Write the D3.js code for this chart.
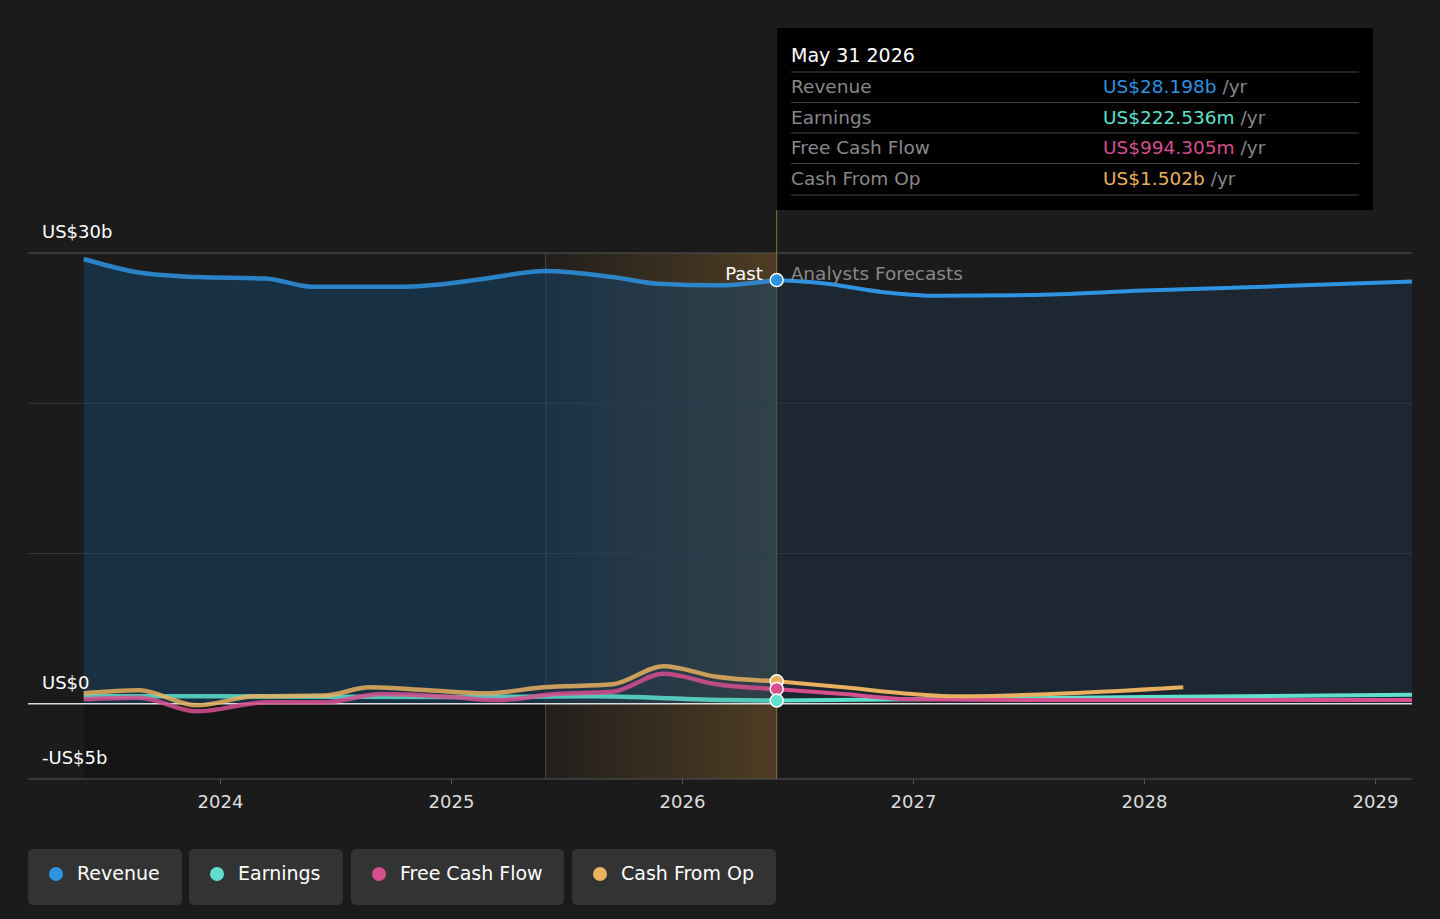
<!DOCTYPE html>
<html><head><meta charset="utf-8">
<script src="https://cdn.jsdelivr.net/npm/d3@7"></script>
<style>
body{margin:0;background:#1b1b1b;font-family:"DejaVu Sans",sans-serif;}
</style></head><body>
<svg id="chart" width="1440" height="919"></svg>
<script>
var revenue = [[2023.41,29.6],[2023.65,28.7],[2023.9,28.4],[2024.2,28.3],[2024.4,27.75],[2024.8,27.75],[2024.95,27.9],[2025.15,28.3],[2025.41,28.8],[2025.7,28.4],[2025.9,27.95],[2026.15,27.85],[2026.41,28.2],[2026.6,28.0],[2026.9,27.35],[2027.1,27.15],[2027.5,27.2],[2028,27.5],[2028.6,27.8],[2029.16,28.1]];
var earnings = [[2023.41,0.5],[2024,0.5],[2025,0.45],[2025.6,0.5],[2026.2,0.25],[2026.41,0.22],[2027,0.3],[2028,0.45],[2029.16,0.6]];
var fcf = [[2023.41,0.3],[2023.65,0.4],[2023.9,-0.5],[2024.2,0.1],[2024.45,0.1],[2024.7,0.65],[2025,0.45],[2025.2,0.25],[2025.45,0.65],[2025.7,0.8],[2025.92,2.0],[2026.15,1.3],[2026.41,0.99],[2026.7,0.65],[2027,0.3],[2027.5,0.25],[2029.16,0.25]];
var cfo = [[2023.41,0.7],[2023.65,0.9],[2023.9,-0.1],[2024.15,0.5],[2024.45,0.55],[2024.65,1.1],[2024.9,0.9],[2025.15,0.7],[2025.4,1.1],[2025.7,1.3],[2025.92,2.5],[2026.15,1.8],[2026.41,1.5],[2026.7,1.1],[2027,0.65],[2027.2,0.5],[2027.6,0.65],[2028.17,1.1]];
var nowX = 2026.41, pastX = 2025.41;

var svg = d3.select("#chart");
var x = d3.scaleLinear().domain([2024, 2029]).range([220, 1375]);
var y = d3.scaleLinear().domain([-5, 30]).range([779, 253]);
var L = 28, R = 1412;

// backgrounds
svg.append("rect").attr("x", x(2023.41)).attr("y", y(0)).attr("width", x(pastX) - x(2023.41)).attr("height", y(-5) - y(0)).attr("fill", "#151515");
var grad = svg.append("defs").append("linearGradient").attr("id", "hl");
grad.append("stop").attr("offset", "0%").attr("stop-color", "#e8a33d").attr("stop-opacity", 0.03);
grad.append("stop").attr("offset", "100%").attr("stop-color", "#e8a33d").attr("stop-opacity", 0.25);
svg.append("rect").attr("x", x(pastX)).attr("y", y(30)).attr("width", x(nowX) - x(pastX)).attr("height", y(-5) - y(30)).attr("fill", "url(#hl)");

// grid
[30, 20, 10].forEach(function(v) {
    svg.append("line").attr("x1", L).attr("x2", R).attr("y1", y(v)).attr("y2", y(v)).attr("stroke", v == 30 ? "#555" : "#3a3a3a");
});
svg.append("line").attr("x1", L).attr("x2", R).attr("y1", y(-5)).attr("y2", y(-5)).attr("stroke", "#555");
[pastX, nowX].forEach(function(v, i) {
    svg.append("line").attr("x1", x(v)).attr("x2", x(v)).attr("y1", i ? 210 : y(30)).attr("y2", y(-5)).attr("stroke", i ? "#8a7040" : "#4a4a4a");
});

var curve = d3.curveMonotoneX;
var area = d3.area().x(function(d) { return x(d[0]); }).y0(y(0)).y1(function(d) { return y(d[1]); }).curve(curve);
var past = revenue.filter(function(d) { return d[0] <= nowX; });
var fut = revenue.filter(function(d) { return d[0] >= nowX; });
svg.append("path").datum(past).attr("d", area).attr("fill", "#16466e").attr("opacity", 0.5);
svg.append("path").datum(fut).attr("d", area).attr("fill", "#1f3a52").attr("opacity", 0.4);

svg.append("line").attr("x1", L).attr("x2", R).attr("y1", y(0)).attr("y2", y(0)).attr("stroke", "#ddd").attr("stroke-width", 1.5);

var line = d3.line().x(function(d) { return x(d[0]); }).y(function(d) { return y(d[1]); }).curve(curve);
var series = [[earnings, "#5ee0cc"], [fcf, "#d64f8e"], [cfo, "#e8b05f"], [revenue, "#2e93e0"]];
series.forEach(function(s) {
    svg.append("path").datum(s[0].filter(function(d) { return d[0] <= nowX; })).attr("d", line)
        .attr("fill", "none").attr("stroke", s[1]).attr("stroke-width", 4.5).attr("opacity", 0.85);
    svg.append("path").datum(s[0].filter(function(d) { return d[0] >= nowX; })).attr("d", line)
        .attr("fill", "none").attr("stroke", s[1]).attr("stroke-width", 4);
});
[[28.198, "#2e93e0"], [1.502, "#e8b05f"], [0.994, "#d64f8e"], [0.2225, "#5ee0cc"]].forEach(function(p) {
    svg.append("circle").attr("cx", x(nowX)).attr("cy", y(p[0])).attr("r", 6.5).attr("fill", p[1]).attr("stroke", "#fff").attr("stroke-width", 1.5);
});

svg.append("text").attr("x", x(nowX) - 14).attr("y", 280).attr("text-anchor", "end").attr("fill", "#fff").attr("font-size", 18).text("Past");
svg.append("text").attr("x", x(nowX) + 14).attr("y", 280).attr("fill", "#888").attr("font-size", 18.5).text("Analysts Forecasts");

// y labels
[[30, "US$30b", 238], [0, "US$0", 689], [-5, "-US$5b", 764]].forEach(function(t) {
    svg.append("text").attr("x", 42).attr("y", t[2]).attr("fill", "#fff").attr("font-size", 18).text(t[1]);
});
// x axis
var xAxis = svg.append("g").attr("transform", "translate(0," + y(-5) + ")")
    .call(d3.axisBottom(x).tickValues([2024, 2025, 2026, 2027, 2028, 2029]).tickFormat(d3.format("d")).tickSize(5).tickPadding(11));
xAxis.select(".domain").remove();
xAxis.selectAll("line").attr("stroke", "#555");
xAxis.selectAll("text").attr("fill", "#ddd").attr("font-size", 18).attr("font-family", "DejaVu Sans");

// tooltip
var tip = svg.append("g");
tip.append("rect").attr("x", 777).attr("y", 28).attr("width", 596).attr("height", 182).attr("fill", "#000");
tip.append("text").attr("x", 791).attr("y", 62).attr("fill", "#fff").attr("font-size", 19).text("May 31 2026");
var rows = [["Revenue", "US$28.198b", "#2e93e0"], ["Earnings", "US$222.536m", "#5ee0cc"], ["Free Cash Flow", "US$994.305m", "#d64f8e"], ["Cash From Op", "US$1.502b", "#e8b05f"]];
rows.forEach(function(r, i) {
    var yy = 93 + i * 30.5;
    tip.append("line").attr("x1", 791).attr("x2", 1359).attr("y1", yy - 21).attr("y2", yy - 21).attr("stroke", "#444");
    tip.append("text").attr("x", 791).attr("y", yy).attr("fill", "#888").attr("font-size", 18.5).text(r[0]);
    var t = tip.append("text").attr("x", 1103).attr("y", yy).attr("font-size", 18.5);
    t.append("tspan").attr("fill", r[2]).text(r[1]);
    t.append("tspan").attr("fill", "#888").text(" /yr");
});
tip.append("line").attr("x1", 791).attr("x2", 1359).attr("y1", 195).attr("y2", 195).attr("stroke", "#444");

// legend
var leg = [["Revenue", "#2e93e0", 28, 154], ["Earnings", "#5ee0cc", 189, 154], ["Free Cash Flow", "#d64f8e", 351, 213], ["Cash From Op", "#e8b05f", 572, 204]];
leg.forEach(function(l) {
    var g = svg.append("g").attr("transform", "translate(" + l[2] + ",849)");
    g.append("rect").attr("width", l[3]).attr("height", 56).attr("rx", 5).attr("fill", "#333");
    g.append("circle").attr("cx", 28).attr("cy", 25).attr("r", 7).attr("fill", l[1]);
    g.append("text").attr("x", 49).attr("y", 31).attr("fill", "#fff").attr("font-size", 19).text(l[0]);
});
</script>
</body></html>
